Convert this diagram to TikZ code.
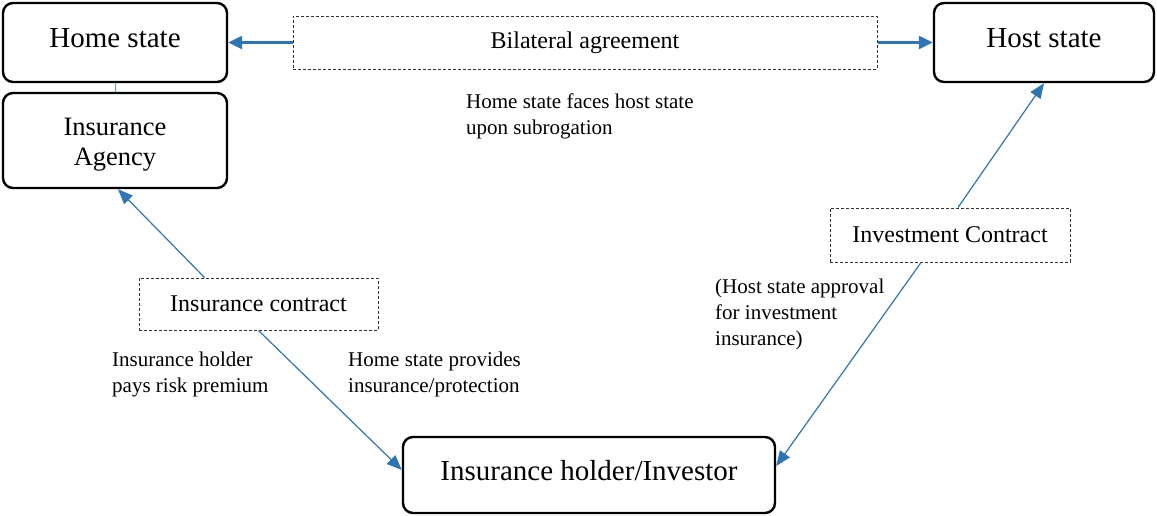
\documentclass[tikz,border=0pt]{standalone}
\usepackage{fontspec}
\setmainfont{Liberation Serif}
\usetikzlibrary{arrows.meta,calc}
\definecolor{arrowblue}{RGB}{46,117,182}
\definecolor{linkblue}{RGB}{91,155,213}
\tikzset{
  bigbox/.style={draw=black, line width=2.4pt, rounded corners=10pt, inner sep=0pt,
    font=\fontsize{29}{32}\selectfont, align=center},
  dashbox/.style={draw=black!80, line width=1pt, dash pattern=on 3pt off 2pt, inner sep=0pt,
    font=\fontsize{24}{27}\selectfont},
  lbl/.style={inner sep=0pt, anchor=base west, align=left, font=\fontsize{21}{26}\selectfont},
  thickarrow/.style={draw=arrowblue, line width=2.4pt, -{Triangle[length=14pt,width=13pt]}},
  thinarrow/.style={draw=arrowblue, line width=1.2pt, -{Triangle[length=15pt,width=12pt]}},
}
\begin{document}
\begin{tikzpicture}[x=1pt,y=-1pt]
\useasboundingbox (0,0) rectangle (1157,515);
% main boxes
\node[bigbox, minimum width=224pt, minimum height=79pt, text height=19pt, text depth=10pt] (home) at (115,42.5) {Home state};
\node[bigbox, minimum width=224pt, minimum height=95pt, text height=55pt, text depth=6pt,
  font=\fontsize{26.5}{30}\selectfont] (agency) at (115,140.5) {Insurance\\Agency};
\node[bigbox, minimum width=220pt, minimum height=79pt, text height=19pt, text depth=10pt] (host) at (1044,42.5) {Host state};
\node[bigbox, minimum width=372pt, minimum height=76pt, text height=19pt, text depth=9pt] (holder) at (589,475) {Insurance holder/Investor};
% dashed boxes
\node[dashbox, minimum width=584pt, minimum height=53pt] (bil) at (585,42.5) {Bilateral agreement};
\node[dashbox, minimum width=240pt, minimum height=54pt] (inv) at (950,235) {Investment Contract};
\node[dashbox, minimum width=239pt, minimum height=52pt] (ins) at (258.5,304) {Insurance contract};
% labels (anchor at the baseline of the last line)
\node[lbl] (t1) at (466,134) {Home state faces host state\\upon subrogation};
\node[lbl] (t2) at (112,392) {Insurance holder\\pays risk premium};
\node[lbl] (t3) at (348,392) {Home state provides\\insurance/protection};
\node[lbl] (t4) at (715,345) {(Host state approval\\for investment\\insurance)};
% connectors
\draw[linkblue, line width=1pt] (home.south) -- (agency.north);
\draw[thickarrow] (bil.west) -- (home.east);
\draw[thickarrow] (bil.east) -- (host.west);
\draw[thinarrow] ([xshift=8pt]inv.north) -- (host.south);
\draw[thinarrow] ([xshift=-29pt]inv.south) -- ([yshift=9pt]holder.east);
\draw[thinarrow] ([xshift=-54pt]ins.north) -- ([xshift=3pt]agency.south);
\draw[thinarrow] (ins.south) -- ([yshift=5pt]holder.west);
\end{tikzpicture}
\end{document}
